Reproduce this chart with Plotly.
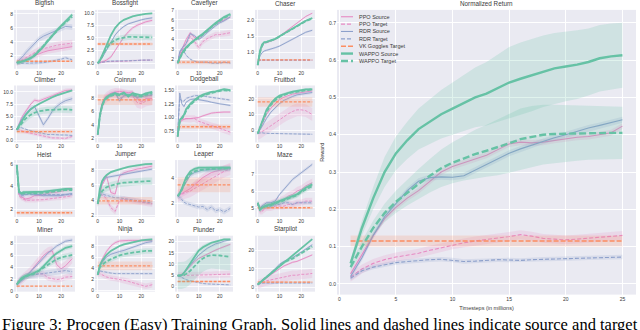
import plotly.graph_objects as go

W, H = 640, 330

SERIES = ["ppo_s", "ppo_t", "rdr_s", "rdr_t", "vk_t", "wappo_s", "wappo_t"]
SERIES_NAMES = ["PPO Source", "PPO Target", "RDR Source", "RDR Target",
                "VK Goggles Target", "WAPPO Source", "WAPPO Target"]

# Small panels share one x grid (millions of steps)
X_SMALL = [0, 1, 2, 3, 4, 6, 8, 10, 12, 14, 16, 18, 20, 22, 25]

BIGFISH = {
    "ppo_s": [1.0, 1.1, 1.2, 1.3, 1.4, 1.7, 2.0, 2.3, 2.5, 2.7, 2.8, 2.9, 3.0, 3.1, 3.3],
    "ppo_t": [1.0, 1.1, 1.3, 1.5, 1.7, 2.1, 2.5, 2.8, 3.0, 3.2, 3.3, 3.5, 3.6, 3.7, 3.8],
    "rdr_s": [1.0, 1.3, 1.6, 2.0, 2.4, 3.1, 3.8, 4.4, 4.8, 5.1, 5.4, 5.6, 5.9, 6.2, 6.1],
    "rdr_t": [1.0, 0.9, 0.9, 0.9, 0.9, 0.9, 0.9, 1.0, 1.0, 1.1, 1.2, 1.3, 1.5, 1.7, 1.4],
    "vk_t": [1.2, 1.2, 1.2, 1.2, 1.2, 1.2, 1.2, 1.2, 1.2, 1.2, 1.2, 1.2, 1.2, 1.2, 1.2],
    "wappo_s": [1.0, 1.0, 1.1, 1.2, 1.3, 1.6, 2.0, 2.6, 3.3, 4.1, 4.9, 5.6, 6.3, 7.0, 7.9],
    "wappo_t": [1.0, 1.0, 1.1, 1.2, 1.3, 1.6, 2.1, 2.7, 3.4, 4.2, 4.9, 5.6, 6.2, 6.8, 7.6],
    "band": [0.4, 0.5, 0.4, 0.2, 0.1, 0.3, 0.3],
}
BOSSFIGHT = {
    "ppo_s": [0.0, 0.1, 0.2, 0.4, 0.6, 1.2, 2.5, 4.0, 5.2, 6.2, 7.0, 7.5, 7.9, 8.2, 8.5],
    "ppo_t": [0.0, 0.1, 0.2, 0.2, 0.3, 0.3, 0.3, 0.4, 0.4, 0.4, 0.5, 0.5, 0.5, 0.6, 0.6],
    "rdr_s": [0.0, 0.4, 1.0, 1.8, 2.6, 4.2, 5.6, 6.6, 7.3, 7.8, 8.1, 8.4, 8.6, 8.8, 9.0],
    "rdr_t": [0.0, 0.1, 0.2, 0.3, 0.3, 0.4, 0.4, 0.4, 0.5, 0.5, 0.5, 0.5, 0.6, 0.6, 0.6],
    "vk_t": [3.8, 3.8, 3.8, 3.8, 3.8, 3.8, 3.8, 3.8, 3.8, 3.8, 3.8, 3.8, 3.8, 3.8, 3.8],
    "wappo_s": [0.0, 0.5, 1.5, 2.5, 3.5, 5.5, 7.0, 8.0, 8.6, 9.0, 9.3, 9.5, 9.7, 9.8, 9.9],
    "wappo_t": [0.0, 0.5, 1.3, 2.2, 3.0, 4.0, 4.6, 4.9, 5.1, 5.2, 5.2, 5.2, 5.1, 5.2, 5.1],
    "band": [0.3, 0.15, 0.2, 0.15, 0.3, 0.15, 0.6],
}
CAVEFLYER = {
    "ppo_s": [1.6, 2.5, 3.0, 3.5, 4.0, 4.7, 4.2, 4.1, 4.5, 4.9, 5.3, 5.6, 5.8, 6.0, 6.3],
    "ppo_t": [1.6, 2.3, 2.8, 3.2, 3.6, 4.3, 3.8, 3.2, 3.8, 4.1, 4.3, 4.5, 4.5, 4.6, 4.7],
    "rdr_s": [1.6, 2.8, 3.1, 3.3, 3.6, 4.6, 4.4, 4.0, 4.3, 4.7, 5.1, 5.4, 5.7, 5.9, 6.3],
    "rdr_t": [1.6, 2.7, 3.0, 2.8, 2.4, 2.0, 1.8, 1.7, 1.7, 1.7, 1.6, 1.6, 1.6, 1.7, 1.6],
    "vk_t": [1.7, 1.7, 1.7, 1.7, 1.7, 1.7, 1.7, 1.7, 1.7, 1.7, 1.7, 1.7, 1.7, 1.7, 1.7],
    "wappo_s": [1.6, 2.2, 2.6, 2.9, 3.2, 3.6, 4.0, 4.3, 4.6, 5.0, 5.4, 5.7, 6.0, 6.3, 6.6],
    "wappo_t": [1.6, 2.1, 2.5, 2.8, 3.1, 3.6, 3.9, 4.2, 4.5, 4.9, 5.3, 5.6, 5.9, 6.2, 6.5],
    "band": [0.15, 0.3, 0.15, 0.1, 0.2, 0.15, 0.15],
}
CHASER = {
    "ppo_s": [0.62, 1.0, 1.2, 1.3, 1.3, 1.35, 1.4, 1.5, 1.6, 1.7, 1.8, 1.9, 2.0, 2.1, 2.2],
    "ppo_t": [0.77, 0.77, 0.77, 0.77, 0.77, 0.77, 0.77, 0.77, 0.77, 0.77, 0.77, 0.77, 0.77, 0.77, 0.77],
    "rdr_s": [0.62, 0.9, 1.0, 1.05, 1.07, 1.1, 1.15, 1.2, 1.27, 1.34, 1.4, 1.47, 1.55, 1.62, 1.68],
    "rdr_t": [0.77, 0.77, 0.77, 0.77, 0.77, 0.77, 0.77, 0.77, 0.77, 0.77, 0.77, 0.77, 0.77, 0.77, 0.77],
    "vk_t": [0.78, 0.78, 0.78, 0.78, 0.78, 0.78, 0.78, 0.78, 0.78, 0.78, 0.78, 0.78, 0.78, 0.78, 0.78],
    "wappo_s": [0.62, 1.05, 1.25, 1.32, 1.33, 1.37, 1.42, 1.5, 1.58, 1.66, 1.74, 1.82, 1.9, 1.97, 2.05],
    "wappo_t": [0.62, 1.0, 1.2, 1.3, 1.32, 1.36, 1.41, 1.49, 1.57, 1.65, 1.73, 1.81, 1.88, 1.96, 2.04],
    "band": [0.02, 0.01, 0.03, 0.01, 0.01, 0.02, 0.02],
}
CLIMBER = {
    "ppo_s": [2.2, 3.5, 4.5, 5.3, 6.0, 7.3, 8.3, 8.1, 8.5, 8.8, 9.2, 9.6, 10.0, 10.3, 10.4],
    "ppo_t": [2.2, 2.2, 2.0, 1.8, 1.7, 1.5, 1.3, 1.0, 0.8, 0.6, 0.5, 0.5, 0.4, 0.4, 0.8],
    "rdr_s": [2.2, 3.3, 4.2, 4.9, 5.5, 6.5, 7.0, 5.0, 3.2, 4.5, 6.0, 7.0, 7.7, 8.2, 8.6],
    "rdr_t": [2.2, 2.5, 2.6, 2.5, 2.3, 2.0, 1.8, 1.5, 1.3, 1.2, 1.2, 1.1, 1.1, 1.1, 1.0],
    "vk_t": [1.8, 1.8, 1.8, 1.8, 1.8, 1.8, 1.8, 1.8, 1.8, 1.8, 1.8, 1.8, 1.8, 1.8, 1.8],
    "wappo_s": [2.2, 3.0, 3.8, 4.6, 5.3, 6.3, 7.0, 7.5, 8.0, 8.5, 8.9, 9.3, 9.6, 9.9, 10.3],
    "wappo_t": [2.2, 2.8, 3.4, 4.0, 4.5, 5.2, 5.7, 6.0, 6.2, 6.3, 6.3, 6.4, 6.4, 6.4, 6.3],
    "band": [0.4, 0.3, 0.5, 0.2, 0.4, 0.2, 0.7],
}
COINRUN = {
    "ppo_s": [2.5, 5.6, 7.2, 8.0, 8.4, 8.8, 9.0, 9.1, 9.0, 8.9, 9.0, 8.0, 7.5, 8.0, 8.0],
    "ppo_t": [2.5, 5.4, 7.0, 7.8, 8.2, 8.6, 8.8, 8.8, 8.6, 8.5, 8.4, 7.4, 7.2, 7.6, 7.8],
    "rdr_s": [2.5, 5.5, 7.0, 7.8, 8.2, 8.6, 8.9, 7.6, 8.5, 8.6, 8.5, 8.2, 8.3, 8.5, 8.6],
    "rdr_t": [2.5, 5.4, 6.9, 7.7, 8.1, 8.5, 8.7, 8.0, 8.4, 8.5, 8.4, 8.2, 8.3, 8.4, 8.5],
    "vk_t": [7.8, 7.8, 7.8, 7.8, 7.8, 7.8, 7.8, 7.8, 7.8, 7.8, 7.8, 7.8, 7.8, 7.8, 7.8],
    "wappo_s": [2.5, 5.5, 7.0, 7.8, 8.2, 8.6, 8.8, 8.6, 8.9, 8.3, 8.8, 8.7, 8.5, 8.8, 9.0],
    "wappo_t": [2.5, 5.3, 6.8, 7.6, 8.0, 8.4, 8.6, 8.5, 8.8, 8.5, 8.6, 8.5, 8.3, 8.6, 8.8],
    "band": [0.3, 0.8, 0.3, 0.3, 0.8, 0.2, 0.2],
}
DODGEBALL = {
    "ppo_s": [0.65, 0.9, 0.95, 0.97, 0.98, 0.98, 0.99, 1.0, 1.03, 1.06, 1.08, 1.09, 1.1, 1.1, 1.1],
    "ppo_t": [0.65, 0.95, 0.98, 0.98, 0.97, 0.97, 0.98, 0.93, 0.9, 0.88, 0.85, 0.83, 0.8, 0.78, 0.73],
    "rdr_s": [0.7, 1.45, 1.25, 1.2, 1.28, 1.33, 1.34, 1.33, 1.32, 1.3, 1.28, 1.26, 1.25, 1.24, 1.22],
    "rdr_t": [0.7, 1.35, 1.3, 1.3, 1.35, 1.38, 1.4, 1.4, 1.4, 1.38, 1.37, 1.36, 1.35, 1.34, 1.32],
    "vk_t": [0.83, 0.83, 0.83, 0.83, 0.83, 0.83, 0.83, 0.83, 0.83, 0.83, 0.83, 0.83, 0.83, 0.83, 0.83],
    "wappo_s": [0.65, 0.95, 1.0, 1.05, 1.15, 1.25, 1.32, 1.38, 1.42, 1.45, 1.47, 1.48, 1.5, 1.52, 1.5],
    "wappo_t": [0.65, 0.93, 0.98, 1.03, 1.12, 1.23, 1.3, 1.36, 1.4, 1.43, 1.45, 1.47, 1.48, 1.5, 1.49],
    "band": [0.02, 0.06, 0.02, 0.02, 0.04, 0.02, 0.02],
}
FRUITBOT = {
    "ppo_s": [-2, 1, 4, 7, 10, 14, 17, 19.5, 21, 22, 23, 23.5, 24, 24.5, 25],
    "ppo_t": [-2, -1.5, -1, 0, 1, 3, 5, 7, 9, 10.5, 12, 13, 13, 12.5, 10],
    "rdr_s": [-2, 0, 2.5, 5, 7.5, 11.5, 14.5, 17, 19, 20.5, 21.5, 22.5, 23, 23.5, 24],
    "rdr_t": [-2, -1.5, -1.5, -1.8, -2, -2, -2, -2, -2.2, -2.2, -2.2, -2.3, -2.3, -2.4, -2.5],
    "vk_t": [18, 18, 18, 18, 18, 18, 18, 18, 18, 18, 18, 18, 18, 18, 18],
    "wappo_s": [-2, 2, 6, 10, 13, 17, 20, 22, 23, 24, 24.5, 25, 25.5, 26, 26],
    "wappo_t": [-2, 1.5, 5, 8.5, 11.5, 16, 19, 21, 22.5, 23.5, 24, 24.5, 25, 25.5, 26],
    "band": [1.0, 4.0, 1.0, 0.5, 3.0, 0.8, 0.8],
}
HEIST = {
    "ppo_s": [5.9, 3.3, 3.1, 3.0, 2.9, 3.0, 3.2, 3.2, 3.3, 3.4, 3.5, 3.5, 3.6, 3.7, 3.8],
    "ppo_t": [5.9, 3.2, 3.0, 2.9, 2.8, 2.8, 2.8, 2.8, 2.85, 2.9, 2.95, 3.0, 3.0, 3.1, 3.2],
    "rdr_s": [5.9, 3.5, 3.3, 3.3, 3.3, 3.4, 3.3, 3.3, 3.2, 3.2, 3.2, 3.2, 3.2, 3.3, 3.4],
    "rdr_t": [5.9, 3.4, 3.2, 3.2, 3.3, 3.3, 3.3, 3.3, 3.3, 3.3, 3.3, 3.3, 3.3, 3.3, 3.3],
    "vk_t": [1.7, 1.7, 1.7, 1.7, 1.7, 1.7, 1.7, 1.7, 1.7, 1.7, 1.7, 1.7, 1.7, 1.7, 1.7],
    "wappo_s": [5.9, 3.6, 3.4, 3.5, 3.5, 3.5, 3.5, 3.5, 3.55, 3.6, 3.65, 3.7, 3.75, 3.8, 3.8],
    "wappo_t": [5.9, 3.5, 3.4, 3.4, 3.4, 3.4, 3.4, 3.4, 3.45, 3.5, 3.55, 3.6, 3.65, 3.7, 3.7],
    "band": [0.2, 0.2, 0.15, 0.15, 0.15, 0.15, 0.15],
}
JUMPER = {
    "ppo_s": [3.5, 5.0, 6.0, 6.5, 7.2, 5.0, 4.8, 7.2, 7.6, 7.8, 8.0, 8.1, 8.2, 8.3, 8.5],
    "ppo_t": [3.5, 4.6, 4.7, 4.5, 4.2, 3.0, 2.5, 4.0, 4.1, 4.0, 3.9, 3.8, 3.7, 3.6, 3.5],
    "rdr_s": [3.5, 5.2, 6.3, 6.8, 7.0, 7.1, 7.2, 7.3, 7.5, 7.6, 7.7, 7.8, 7.9, 8.0, 8.1],
    "rdr_t": [3.5, 4.8, 4.8, 4.7, 4.6, 4.5, 4.3, 4.3, 4.2, 4.1, 4.0, 3.9, 3.8, 3.7, 3.6],
    "vk_t": [3.9, 3.9, 3.9, 3.9, 3.9, 3.9, 3.9, 3.9, 3.9, 3.9, 3.9, 3.9, 3.9, 3.9, 3.9],
    "wappo_s": [3.5, 5.5, 6.5, 7.0, 7.3, 7.7, 7.9, 8.1, 8.3, 8.4, 8.5, 8.6, 8.7, 8.75, 8.8],
    "wappo_t": [3.5, 4.6, 5.2, 5.5, 5.7, 5.9, 6.1, 6.2, 6.3, 6.35, 6.4, 6.45, 6.5, 6.5, 6.5],
    "band": [0.3, 0.4, 0.2, 0.3, 0.5, 0.15, 0.5],
}
LEAPER = {
    "ppo_s": [2.6, 2.7, 2.8, 2.9, 3.0, 3.2, 3.5, 3.8, 4.1, 4.3, 4.5, 4.6, 4.7, 4.8, 4.9],
    "ppo_t": [2.6, 2.7, 2.75, 2.8, 2.9, 3.0, 3.2, 3.4, 3.6, 3.8, 4.0, 4.2, 4.4, 4.6, 4.8],
    "rdr_s": [2.6, 2.8, 3.1, 3.4, 3.8, 4.3, 4.5, 4.6, 4.7, 4.7, 4.75, 4.75, 4.8, 4.8, 4.8],
    "rdr_t": [2.6, 2.5, 2.3, 2.1, 2.0, 1.9, 1.8, 1.7, 1.75, 1.5, 1.7, 1.4, 1.5, 1.3, 1.6],
    "vk_t": [3.5, 3.5, 3.5, 3.5, 3.5, 3.5, 3.5, 3.5, 3.5, 3.5, 3.5, 3.5, 3.5, 3.5, 3.5],
    "wappo_s": [2.6, 2.8, 3.2, 3.7, 4.1, 4.6, 4.8, 4.9, 4.9, 4.9, 4.9, 4.9, 4.9, 4.9, 4.9],
    "wappo_t": [2.6, 2.8, 3.1, 3.5, 3.9, 4.4, 4.6, 4.7, 4.75, 4.75, 4.8, 4.8, 4.8, 4.8, 4.85],
    "band": [0.3, 0.5, 0.2, 0.2, 0.6, 0.15, 0.2],
}
MAZE = {
    "ppo_s": [5.2, 4.9, 5.0, 5.1, 5.1, 5.2, 5.3, 5.4, 5.5, 5.7, 5.8, 6.0, 6.1, 6.3, 6.5],
    "ppo_t": [5.2, 4.8, 4.8, 4.9, 5.0, 5.0, 5.1, 5.1, 5.1, 5.2, 5.2, 5.3, 5.3, 5.4, 5.4],
    "rdr_s": [5.2, 4.9, 5.1, 5.2, 5.3, 5.3, 5.4, 5.8, 6.1, 6.4, 6.7, 6.9, 7.1, 7.3, 7.6],
    "rdr_t": [5.2, 5.0, 5.1, 5.1, 5.1, 5.1, 5.2, 5.2, 5.3, 5.3, 5.2, 5.3, 5.3, 5.3, 5.3],
    "vk_t": [5.0, 5.0, 5.0, 5.0, 5.0, 5.0, 5.0, 5.0, 5.0, 5.0, 5.0, 5.0, 5.0, 5.0, 5.0],
    "wappo_s": [5.3, 4.9, 5.0, 5.1, 5.15, 5.2, 5.3, 5.4, 5.5, 5.6, 5.7, 5.8, 6.0, 6.2, 6.4],
    "wappo_t": [5.3, 4.9, 5.0, 5.05, 5.1, 5.15, 5.25, 5.35, 5.45, 5.55, 5.65, 5.75, 5.95, 6.1, 6.3],
    "band": [0.25, 0.2, 0.1, 0.1, 0.08, 0.15, 0.15],
}
MINER = {
    "ppo_s": [1.2, 1.6, 2.0, 2.3, 2.6, 3.3, 4.2, 5.2, 6.0, 6.6, 6.8, 4.5, 3.8, 4.3, 5.5],
    "ppo_t": [1.2, 1.6, 2.0, 2.3, 2.6, 2.8, 2.9, 3.0, 2.9, 2.3, 2.1, 2.0, 2.1, 2.4, 2.5],
    "rdr_s": [1.2, 1.5, 1.8, 2.1, 2.4, 3.2, 4.0, 4.8, 5.6, 6.4, 7.0, 7.6, 8.0, 8.4, 8.6],
    "rdr_t": [1.2, 1.8, 2.1, 2.3, 2.5, 2.7, 2.8, 2.9, 3.0, 3.1, 3.2, 3.3, 3.4, 3.5, 3.3],
    "vk_t": [0.9, 0.9, 0.9, 0.9, 0.9, 0.9, 0.9, 0.9, 0.9, 0.9, 0.9, 0.9, 0.9, 0.9, 0.9],
    "wappo_s": [1.2, 1.8, 2.2, 2.4, 2.6, 2.8, 3.1, 3.5, 4.2, 5.0, 5.8, 6.4, 6.9, 7.3, 7.6],
    "wappo_t": [1.2, 1.7, 2.0, 2.3, 2.5, 2.8, 3.0, 3.5, 4.0, 4.5, 5.0, 5.4, 5.7, 5.9, 6.1],
    "band": [0.8, 0.5, 0.3, 0.5, 0.05, 0.4, 0.5],
}
NINJA = {
    "ppo_s": [2.8, 4.6, 5.6, 6.4, 7.0, 8.0, 8.6, 8.9, 9.0, 9.0, 9.0, 9.0, 9.0, 9.0, 9.0],
    "ppo_t": [2.8, 3.0, 2.8, 2.6, 2.4, 2.2, 2.1, 2.0, 1.8, 1.6, 1.4, 1.2, 0.9, 0.7, 1.0],
    "rdr_s": [2.8, 4.4, 5.0, 5.5, 6.0, 6.5, 6.8, 7.0, 7.2, 7.5, 7.8, 8.1, 8.4, 8.6, 8.8],
    "rdr_t": [2.8, 3.5, 3.4, 3.3, 3.2, 3.1, 3.0, 3.0, 3.0, 3.0, 3.0, 3.0, 3.0, 3.0, 3.0],
    "vk_t": [4.4, 4.4, 4.4, 4.4, 4.4, 4.4, 4.4, 4.4, 4.4, 4.4, 4.4, 4.4, 4.4, 4.4, 4.4],
    "wappo_s": [2.8, 4.5, 5.3, 5.9, 6.4, 7.1, 7.6, 8.0, 8.3, 8.5, 8.7, 8.9, 9.0, 9.1, 9.2],
    "wappo_t": [2.8, 4.2, 4.6, 4.9, 5.2, 5.6, 6.0, 6.3, 6.5, 6.7, 6.8, 6.9, 7.0, 7.1, 7.1],
    "band": [0.3, 0.5, 0.3, 0.2, 0.8, 0.2, 0.5],
}
PLUNDER = {
    "ppo_s": [4.8, 4.8, 5.5, 6.2, 7.0, 9.0, 11, 12.5, 13.5, 14.5, 15.5, 16.2, 17, 17.8, 18.8],
    "ppo_t": [4.8, 5.0, 5.0, 4.9, 4.9, 5.0, 5.0, 5.1, 5.1, 5.2, 5.2, 5.3, 5.3, 5.4, 5.5],
    "rdr_s": [4.8, 4.5, 5.0, 6.0, 7.2, 9.5, 12, 14, 15.5, 17, 18, 19, 19.5, 20.2, 20.8],
    "rdr_t": [4.8, 4.6, 4.0, 3.5, 3.0, 2.5, 2.0, 1.6, 1.3, 1.1, 1.0, 0.9, 0.8, 0.8, 0.7],
    "vk_t": [2.2, 2.2, 2.2, 2.2, 2.2, 2.2, 2.2, 2.2, 2.2, 2.2, 2.2, 2.2, 2.2, 2.2, 2.2],
    "wappo_s": [4.8, 4.8, 5.0, 6.0, 7.5, 10.5, 13.5, 16, 17.5, 18.5, 19.5, 20, 20.5, 21, 21],
    "wappo_t": [4.8, 4.8, 4.8, 5.0, 5.5, 7, 9, 11, 12.5, 13.5, 14, 14, 13.8, 13.5, 13.2],
    "band": [0.5, 1.5, 0.5, 0.3, 0.3, 0.5, 6.0],
}
STARPILOT = {
    "ppo_s": [1.5, 2.5, 3.5, 4.3, 5.0, 6.8, 8.5, 10, 11.5, 12.5, 13.5, 14, 15, 16, 17.5],
    "ppo_t": [1.5, 2.0, 2.5, 3.0, 3.5, 4.0, 4.5, 5.0, 5.5, 6.0, 6.5, 6.5, 7.0, 7.0, 7.5],
    "rdr_s": [1.5, 2.5, 3.5, 4.5, 5.5, 7.5, 10, 12.5, 14, 15, 16, 17.5, 19, 20.5, 23],
    "rdr_t": [1.5, 2.0, 2.2, 2.3, 2.3, 2.3, 2.3, 2.3, 2.3, 2.3, 2.3, 2.3, 2.3, 2.3, 2.3],
    "vk_t": [2.8, 2.8, 2.8, 2.8, 2.8, 2.8, 2.8, 2.8, 2.8, 2.8, 2.8, 2.8, 2.8, 2.8, 2.8],
    "wappo_s": [1.5, 2.5, 3.5, 4.5, 5.5, 7.5, 9.5, 11.5, 13.5, 15.5, 17.5, 19.5, 21.5, 23.5, 26],
    "wappo_t": [1.5, 2.5, 3.5, 4.5, 5.5, 7.5, 9.8, 12, 13.5, 14.5, 15.5, 17, 18.5, 20, 22],
    "band": [0.5, 2.5, 0.5, 0.3, 0.4, 0.5, 0.8],
}

GAMES = [
    ("Bigfish", BIGFISH, 2, None), ("Bossfight", BOSSFIGHT, 2.5, ".1f"),
    ("Caveflyer", CAVEFLYER, 1, None), ("Chaser", CHASER, 0.5, ".1f"),
    ("Climber", CLIMBER, 2.5, ".1f"), ("Coinrun", COINRUN, 2, None),
    ("Dodgeball", DODGEBALL, 0.25, ".2f"), ("Fruitbot", FRUITBOT, 10, None),
    ("Heist", HEIST, 2, None), ("Jumper", JUMPER, 2, None),
    ("Leaper", LEAPER, 2, None), ("Maze", MAZE, 1, None),
    ("Miner", MINER, 2, None), ("Ninja", NINJA, 2, None),
    ("Plunder", PLUNDER, 5, None), ("Starpilot", STARPILOT, 10, None),
]

# Aggregate panel
X_MAIN = list(range(1, 26))
MAIN_PPO_S = [0.027, 0.08, 0.13, 0.175, 0.205, 0.23, 0.25, 0.275, 0.3, 0.315, 0.325, 0.335, 0.345,
              0.36, 0.375, 0.38, 0.378, 0.38, 0.385, 0.39, 0.393, 0.395, 0.4, 0.405, 0.423]
MAIN_PPO_T = [0.018, 0.04, 0.055, 0.065, 0.072, 0.077, 0.082, 0.09, 0.097, 0.105, 0.11, 0.115, 0.12,
              0.123, 0.127, 0.132, 0.128, 0.122, 0.12, 0.118, 0.12, 0.122, 0.124, 0.127, 0.13]
MAIN_RDR_S = [0.02, 0.07, 0.13, 0.18, 0.215, 0.25, 0.275, 0.285, 0.287, 0.286, 0.29, 0.305, 0.32,
              0.335, 0.35, 0.362, 0.372, 0.383, 0.392, 0.4, 0.41, 0.418, 0.425, 0.432, 0.44]
MAIN_RDR_T = [0.015, 0.035, 0.045, 0.052, 0.057, 0.06, 0.063, 0.065, 0.066, 0.064, 0.06, 0.061, 0.063,
              0.065, 0.064, 0.063, 0.065, 0.066, 0.067, 0.068, 0.069, 0.07, 0.071, 0.072, 0.072]
MAIN_VK_T = [0.115, 0.115, 0.115, 0.115, 0.115, 0.115, 0.115, 0.115, 0.115, 0.115, 0.115, 0.115, 0.115,
             0.115, 0.115, 0.115, 0.115, 0.115, 0.115, 0.115, 0.115, 0.115, 0.115, 0.115, 0.115]
MAIN_WAPPO_S = [0.055, 0.15, 0.23, 0.30, 0.35, 0.385, 0.415, 0.435, 0.455, 0.47, 0.485, 0.5, 0.51,
                0.525, 0.54, 0.55, 0.56, 0.57, 0.578, 0.583, 0.588, 0.595, 0.605, 0.61, 0.613]
MAIN_WAPPO_T = [0.045, 0.1, 0.15, 0.19, 0.22, 0.245, 0.268, 0.29, 0.31, 0.325, 0.337, 0.348, 0.357,
                0.366, 0.377, 0.388, 0.395, 0.4, 0.402, 0.403, 0.404, 0.405, 0.405, 0.405, 0.405]
MAIN_WAPPO_S_BAND = [0.01, 0.02, 0.03, 0.04, 0.045, 0.05, 0.055, 0.06, 0.065, 0.07, 0.075, 0.08, 0.085,
                     0.09, 0.095, 0.097, 0.097, 0.096, 0.095, 0.093, 0.092, 0.09, 0.089, 0.088, 0.087]
MAIN_WAPPO_T_BAND = [0.01, 0.015, 0.02, 0.025, 0.03, 0.035, 0.04, 0.045, 0.05, 0.055, 0.06, 0.065, 0.07,
                     0.075, 0.08, 0.082, 0.082, 0.08, 0.078, 0.076, 0.074, 0.072, 0.07, 0.07, 0.07]
MAIN_BAND = [0.008, 0.012, 0.008, 0.006, 0.015]

PINK, BLUE, ORANGE, GREEN = "#e78ac3", "#8da0cb", "#fc8d62", "#66c2a5"
FILLS = {PINK: "rgba(231,138,195,0.2)", BLUE: "rgba(141,160,203,0.2)",
         ORANGE: "rgba(252,141,98,0.2)", GREEN: "rgba(102,194,165,0.2)"}

# colour, dash small, width small, dash main, width main
STYLE = {
    "ppo_s": (PINK, "solid", 0.9, "solid", 1.1),
    "ppo_t": (PINK, "3px,1.5px", 0.9, "4px,2px", 1.1),
    "rdr_s": (BLUE, "solid", 0.9, "solid", 1.1),
    "rdr_t": (BLUE, "3px,1.5px", 0.9, "4px,2px", 1.1),
    "vk_t": (ORANGE, "3px,1.5px", 1.3, "5px,2px", 1.5),
    "wappo_s": (GREEN, "solid", 1.8, "solid", 2.4),
    "wappo_t": (GREEN, "4px,2px", 1.8, "7px,3px", 2.4),
}

COLS = [(14, 75), (95, 155), (175, 233), (255, 315)]
ROWS = [(7, 67), (84, 142), (160, 218), (237, 294)]
MAIN_BOX = (337, 636, 7, 297)
BG = "#eaeaf2"
TXT = "#3a3a3a"
FONT = "Liberation Sans"


def pad_range(lo, hi):
    m = (hi - lo) * 0.05
    return [lo - m, hi + m]


def add_series(fig, x, y, band, key, n, main=False):
    color, dsmall, wsmall, dmain, wmain = STYLE[key]
    bands = band if isinstance(band, list) else [band for _ in y]
    upper = [v + b for v, b in zip(y, bands)]
    lower = [v - b for v, b in zip(y, bands)]
    ax = "" if n == 1 else str(n)
    fig.add_trace(go.Scatter(
        x=x + x[::-1], y=upper + lower[::-1], fill="toself", fillcolor=FILLS[color],
        line=dict(width=0), mode="lines", hoverinfo="skip", showlegend=False,
        xaxis="x" + ax, yaxis="y" + ax,
    ))
    fig.add_trace(go.Scatter(
        x=x, y=y, mode="lines", showlegend=False,
        line=dict(color=color, dash=dmain if main else dsmall, width=wmain if main else wsmall),
        xaxis="x" + ax, yaxis="y" + ax,
    ))
    return lower, upper


fig = go.Figure()
layout = {}
annotations = []
shapes = []

for i, (title, data, dtick, fmt) in enumerate(GAMES):
    n = i + 1
    r, c = divmod(i, 4)
    x0, x1 = COLS[c]
    y0, y1 = ROWS[r]
    lows, highs = [], []
    for key, b in zip(SERIES, data["band"]):
        lo, hi = add_series(fig, X_SMALL, data[key], b, key, n)
        lows += lo
        highs += hi
    ax = "" if n == 1 else str(n)
    layout["xaxis" + ax] = dict(
        domain=[x0 / W, x1 / W], range=pad_range(0, 25), anchor="y" + ax,
        dtick=10, tick0=0, showgrid=True, gridcolor="white", gridwidth=0.8,
        zeroline=False, ticks="", tickfont=dict(size=5, color=TXT, family=FONT),
    )
    layout["yaxis" + ax] = dict(
        domain=[1 - y1 / H, 1 - y0 / H], range=pad_range(min(lows), max(highs)),
        anchor="x" + ax, dtick=dtick, tick0=0, tickformat=fmt,
        showgrid=True, gridcolor="white", gridwidth=0.8,
        zeroline=False, ticks="", tickfont=dict(size=5, color=TXT, family=FONT),
    )
    annotations.append(dict(
        text=title, x=(x0 + x1) / 2 / W, y=1 - (y0 - 0.5) / H, xref="paper", yref="paper",
        xanchor="center", yanchor="bottom", showarrow=False,
        font=dict(size=6.3, color=TXT, family=FONT),
    ))

main_series = [
    ("ppo_s", MAIN_PPO_S, MAIN_BAND[0]), ("ppo_t", MAIN_PPO_T, MAIN_BAND[1]),
    ("rdr_s", MAIN_RDR_S, MAIN_BAND[2]), ("rdr_t", MAIN_RDR_T, MAIN_BAND[3]),
    ("vk_t", MAIN_VK_T, MAIN_BAND[4]), ("wappo_s", MAIN_WAPPO_S, MAIN_WAPPO_S_BAND),
    ("wappo_t", MAIN_WAPPO_T, MAIN_WAPPO_T_BAND),
]
lows, highs = [], []
for key, y, b in main_series:
    lo, hi = add_series(fig, X_MAIN, y, b, key, 17, main=True)
    lows += lo
    highs += hi

mx0, mx1, my0, my1 = MAIN_BOX
layout["xaxis17"] = dict(
    domain=[mx0 / W, mx1 / W], range=pad_range(X_MAIN[0], X_MAIN[-1]), anchor="y17",
    dtick=5, tick0=0, showgrid=True, gridcolor="white", gridwidth=1, zeroline=False, ticks="",
    tickfont=dict(size=5, color=TXT, family=FONT),
    title=dict(text="Timesteps (in millions)", font=dict(size=5.5, color=TXT, family=FONT), standoff=5),
)
layout["yaxis17"] = dict(
    domain=[1 - my1 / H, 1 - my0 / H], range=pad_range(min(lows), max(highs)), anchor="x17",
    dtick=0.1, tick0=0, tickformat=".1f", showgrid=True, gridcolor="white", gridwidth=1,
    zeroline=False, ticks="", tickfont=dict(size=5, color=TXT, family=FONT),
    title=dict(text="Reward", font=dict(size=5.5, color=TXT, family=FONT), standoff=4),
)
annotations.append(dict(
    text="Normalized Return", x=(mx0 + mx1) / 2 / W, y=1 - (my0 - 0.5) / H, xref="paper",
    yref="paper", xanchor="center", yanchor="bottom", showarrow=False,
    font=dict(size=6.3, color=TXT, family=FONT),
))

# compact legend in the top-left corner of the aggregate panel
for k, (key, name) in enumerate(zip(SERIES, SERIES_NAMES)):
    color, _, _, dmain, wmain = STYLE[key]
    ly = 1 - (14 + 7.5 * k) / H
    shapes.append(dict(type="line", xref="paper", yref="paper", x0=341 / W, x1=353 / W,
                       y0=ly, y1=ly, line=dict(color=color, dash=dmain, width=wmain)))
    annotations.append(dict(text=name, x=357 / W, y=ly, xref="paper", yref="paper",
                            xanchor="left", yanchor="middle", showarrow=False,
                            font=dict(size=5.5, color=TXT, family=FONT)))

annotations.append(dict(
    text="Figure 3: Procgen (Easy) Training Graph. Solid lines and dashed lines indicate source and target",
    x=0, y=1 - 316 / H, xref="paper", yref="paper", xanchor="left", yanchor="top",
    showarrow=False, font=dict(size=16.5, color="black", family="Liberation Serif"),
))

fig.update_layout(
    **layout,
    annotations=annotations,
    shapes=shapes,
    width=W, height=H,
    margin=dict(l=0, r=0, t=0, b=0),
    paper_bgcolor="white", plot_bgcolor=BG,
    showlegend=False,
)

fig.write_html(
    "out.html",
    config={"displayModeBar": False, "staticPlot": True},
    post_script="document.body.style.margin='0';document.body.style.overflow='hidden';",
)
